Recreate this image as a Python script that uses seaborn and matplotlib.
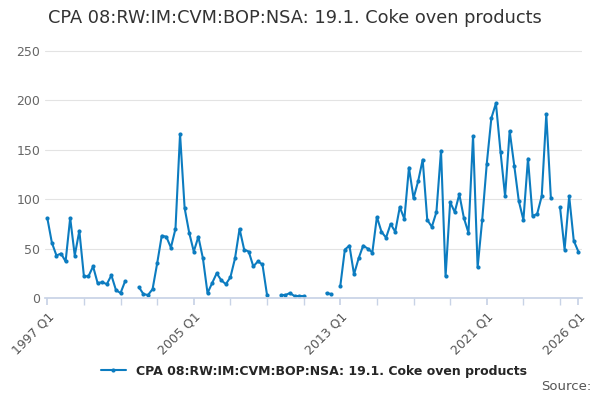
import numpy as np
import pandas as pd
import matplotlib
matplotlib.use("Agg")
import matplotlib.pyplot as plt
import seaborn as sns

nan = np.nan
# quarterly values starting 1997 Q1
values = [81, 56, 43, 45, 37, 81, 43, 68, 22, 22, 32, 15, 16, 14, 23, 8, 5, 17, nan, nan,
          11, 4, 3, 9, 35, 63, 62, 51, 70, 166, 91, 66, 47, 62, 40, 5, 15, 25, 18, 14,
          21, 40, 70, 49, 47, 32, 37, 34, 3, nan, nan, 3, 3, 5, 2, 2, 2, nan, nan, nan,
          nan, 5, 4, nan, 12, 49, 53, 24, 40, 53, 50, 46, 82, 67, 61, 75, 67, 92, 80, 132,
          101, 118, 140, 79, 72, 87, 149, 22, 97, 87, 105, 81, 66, 164, 31, 79, 136, 182, 197, 148,
          103, 169, 134, 98, 79, 141, 83, 85, 103, 186, 101, nan, 92, 49, 103, 58, 47]
series_name = "CPA 08:RW:IM:CVM:BOP:NSA: 19.1. Coke oven products"
tick_labels = ["1997 Q1", "2005 Q1", "2013 Q1", "2021 Q1", "2026 Q1"]
tick_pos = [0, 32, 64, 96, 116]

df = pd.DataFrame({"q": np.arange(len(values)), "v": values})

sns.set_theme(style="white")
plt.rcParams['font.family'] = ['DejaVu Sans']
fig, ax = plt.subplots(figsize=(6, 4), dpi=100)
fig.subplots_adjust(left=0.075, right=0.97, top=0.885, bottom=0.255)

blue = "#0c7cc0"
# plain plot keeps the NaN gaps (seaborn lineplot would drop them and bridge)
ax.plot(df["q"], df["v"], color=blue, lw=1.5, marker="o",
        markersize=3, markeredgewidth=0, label=series_name)

ax.set_xlim(-0.5, 116.8)
ax.set_ylim(0, 255)
ax.set_yticks([0, 50, 100, 150, 200, 250])
ax.yaxis.grid(True, color="#e3e3e3", lw=0.8)
ax.set_xticks(tick_pos)
ax.set_xticklabels(tick_labels, rotation=45, ha="right", rotation_mode="anchor")
ax.set_xticks(np.arange(0, 117, 8), minor=True)
ax.tick_params(axis="x", which="both", length=5, color="#c8d3e6", bottom=True, labelsize=9, colors="#555555")
ax.tick_params(axis="y", length=0, labelsize=9, colors="#666666")
ax.set_xlabel("")
ax.set_ylabel("")
for s in ["top", "right", "left"]:
    ax.spines[s].set_visible(False)
ax.spines["bottom"].set_color("#c8d3e6")

ax.legend(loc="upper center", bbox_to_anchor=(0.5, -0.22), frameon=False,
          prop={"weight": "bold", "size": 9}, handlelength=2)
fig.text(0.08, 0.955, series_name, fontsize=12.8, color="#333333", va="center")
fig.text(0.985, 0.025, "Source:", fontsize=9.5, color="#555555", ha="right")

fig.savefig("out.png")
